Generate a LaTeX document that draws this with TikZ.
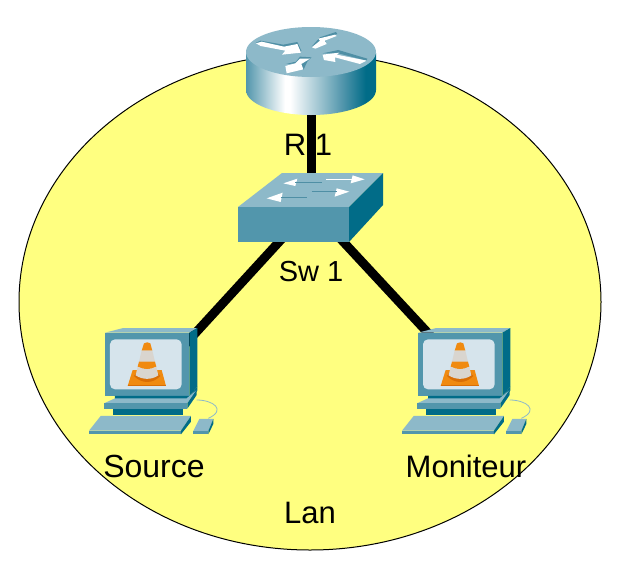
\documentclass[tikz,border=0pt]{standalone}
\usepackage{fontspec}
\usetikzlibrary{shapes.geometric}
\setmainfont{Liberation Sans}
\definecolor{lanfill}{HTML}{FFFF80}
\definecolor{toptone}{HTML}{8DB9C9}
\definecolor{fronttone}{HTML}{5296AC}
\definecolor{darktone}{HTML}{016C88}
\definecolor{softdark}{HTML}{4F8FA5}
\definecolor{screentone}{HTML}{D6E4EC}
\definecolor{coneorange}{HTML}{F08A10}
\definecolor{conedeep}{HTML}{D96E05}
\definecolor{conegrey}{HTML}{D9D5CF}
\pgfdeclarehorizontalshading{routerbody}{100bp}{
  color(0bp)=(fronttone); color(25bp)=(fronttone); color(40bp)=(white);
  color(42bp)=(white); color(62bp)=(fronttone); color(71bp)=(darktone); color(100bp)=(darktone)}
\tikzset{
  icon/.style={inner sep=0pt,minimum width=#1,draw=none},
  link/.style={line width=9pt,black},
  lbl/.style={font=\fontsize{31}{36}\selectfont,inner sep=0pt},
  zoomed/.style={shift={#1},scale=0.3333},
  mark white/.style={fill=white,draw=none},
  mark dark/.style={fill=softdark,draw=none}
}
\newcommand{\pcicon}[2]{%
\begin{scope}[zoomed={(#1,#2)}]
  % monitor
  \fill[toptone] (75,38)--(130,24)--(352,24)--(328,38)--cycle;
  \fill[fronttone] (75,38) rectangle (328,228);
  \fill[darktone] (328,38)--(352,24)--(352,200)--(328,228)--cycle;
  \fill[screentone,rounded corners=5pt] (90,58) rectangle (305,208);
  % cone
  \fill[coneorange] (143,198)--(158,150)--(245,150)--(258,198)--cycle;
  \fill[conedeep] (143,198) rectangle (258,194);
  \fill[conedeep] (162,168) .. controls (185,192) and (218,192) .. (241,168)--(225,150)--(178,150)--cycle;
  \fill[coneorange] (192,70) .. controls (198,66) and (206,66) .. (211,70)--(217,92)--(185,92)--cycle;
  \fill[conegrey] (185,92)--(217,92)--(225,125)--(177,125)--cycle;
  \fill[coneorange] (177,125)--(225,125)--(229,140) .. controls (212,150) and (190,150) .. (173,140)--cycle;
  \fill[conegrey] (173,140) .. controls (190,150) and (212,150) .. (229,140)--(235,166) .. controls (215,180) and (188,180) .. (167,166)--cycle;
  % stand
  \fill[darktone] (105,228)--(328,228)--(352,200)--(352,212)--(322,245)--(105,245)--cycle;
  \fill[toptone] (72,250)--(105,235)--(320,235)--(350,210)--(322,250)--cycle;
  \fill[fronttone] (72,250) rectangle (322,266);
  \fill[darktone] (322,250)--(350,210)--(350,225)--(322,266)--cycle;
  \fill[darktone] (98,266) rectangle (310,285);
  % cable
  \draw[toptone,line width=0.8pt] (350,240) .. controls (400,240) and (440,270) .. (385,295);
  % keyboard
  \fill[toptone] (27,332)--(62,288)--(333,288)--(303,332)--cycle;
  \fill[fronttone] (27,332) rectangle (303,343);
  \fill[darktone] (303,332)--(333,288)--(333,305)--(303,343)--cycle;
  % mouse
  \fill[toptone] (340,333)--(358,297)--(400,297)--(385,333)--cycle;
  \fill[fronttone] (340,333) rectangle (385,343);
  \fill[darktone] (385,333)--(400,297)--(400,312)--(385,343)--cycle;
\end{scope}}
\begin{document}
\begin{tikzpicture}[x=1pt,y=-1pt]
\useasboundingbox (0,0) rectangle (624,576);
\fill[white] (0,0) rectangle (624,576);
\node[ellipse,draw=black,fill=lanfill,line width=1pt,minimum width=582pt,minimum height=496pt,inner sep=0pt] (lan) at (310,302) {};
\node[icon=130pt,minimum height=88pt] (r1) at (311,71) {};
\node[icon=145pt,minimum height=69pt] (sw) at (311,207) {};
\node[icon=110pt,minimum height=115pt] (source) at (157,375) {};
\node[icon=110pt,minimum height=115pt] (moniteur) at (467,375) {};
\draw[link] (r1.center) -- (sw.center);
\draw[link] (sw.center) -- (source.center);
\draw[link] (sw.center) -- (moniteur.center);
% router
\path[shading=routerbody] (246,53) -- (246,90) arc[start angle=180,end angle=360,x radius=65pt,y radius=25pt] -- (376,53) -- cycle;
\fill[toptone] (311,52) ellipse[x radius=65pt,y radius=25pt];
\begin{scope}[zoomed={(220,20)}]
  \fill[mark dark] (108,68)--(122,62)--(190,74)--(232,66)--(244,92)--(240,98)--(232,78)--(190,84)--cycle;
  \fill[mark white] (108,70)--(125,65)--(192,80)--(232,72)--(243,98)--(186,104)--(196,92)--(122,78)--cycle;
  \fill[mark dark] (275,80)--(300,52)--(348,36)--(352,42)--(312,56)--(318,66)--(305,60)--cycle;
  \fill[mark white] (276,82)--(300,62)--(295,56)--(345,44)--(350,48)--(314,62)--(320,72)--(286,86)--cycle;
  \fill[mark dark] (308,100)--(355,90)--(442,116)--(440,122)--(355,100)--cycle;
  \fill[mark white] (308,104)--(358,98)--(350,104)--(440,122)--(420,132)--(345,112)--(346,126)--(312,120)--cycle;
  \fill[mark dark] (198,132)--(228,125)--(240,110)--(275,112)--(262,125)--(250,150)--(240,130)--cycle;
  \fill[mark white] (196,138)--(226,130)--(240,116)--(270,116)--(244,132)--(250,148)--(200,160)--cycle;
\end{scope}
% switch
\fill[toptone] (238,207)--(282,173)--(383,173)--(349,207)--cycle;
\fill[fronttone] (238,207) rectangle (349,242);
\fill[darktone] (349,207)--(383,173)--(383,205)--(349,242)--cycle;
\begin{scope}[zoomed={(220,150)}]
  \fill[mark white] (190,100)--(232,86)--(226,108)--cycle;
  \draw[softdark,line width=0.8pt] (226,97)--(305,97);
  \fill[mark white] (434,88)--(398,76)--(392,100)--cycle;
  \draw[white,line width=0.8pt] (318,89)--(400,89);
  \fill[mark white] (140,145)--(188,128)--(182,156)--cycle;
  \draw[softdark,line width=0.8pt] (182,143)--(262,143);
  \fill[mark white] (388,125)--(350,115)--(344,140)--cycle;
  \draw[softdark,line width=0.8pt] (275,125)--(350,125);
\end{scope}
\pcicon{80}{320}
\pcicon{393}{320}
\node[lbl] (lr1) at (308,145) {R 1};
\node[lbl,font=\fontsize{29}{34}\selectfont] (lsw) at (311,272) {Sw 1};
\node[lbl,font=\fontsize{32}{36}\selectfont] (lsource) at (154,466) {Source};
\node[lbl] (lmon) at (466,466) {Moniteur};
\node[lbl] (llan) at (310,513) {Lan};
\end{tikzpicture}
\end{document}
